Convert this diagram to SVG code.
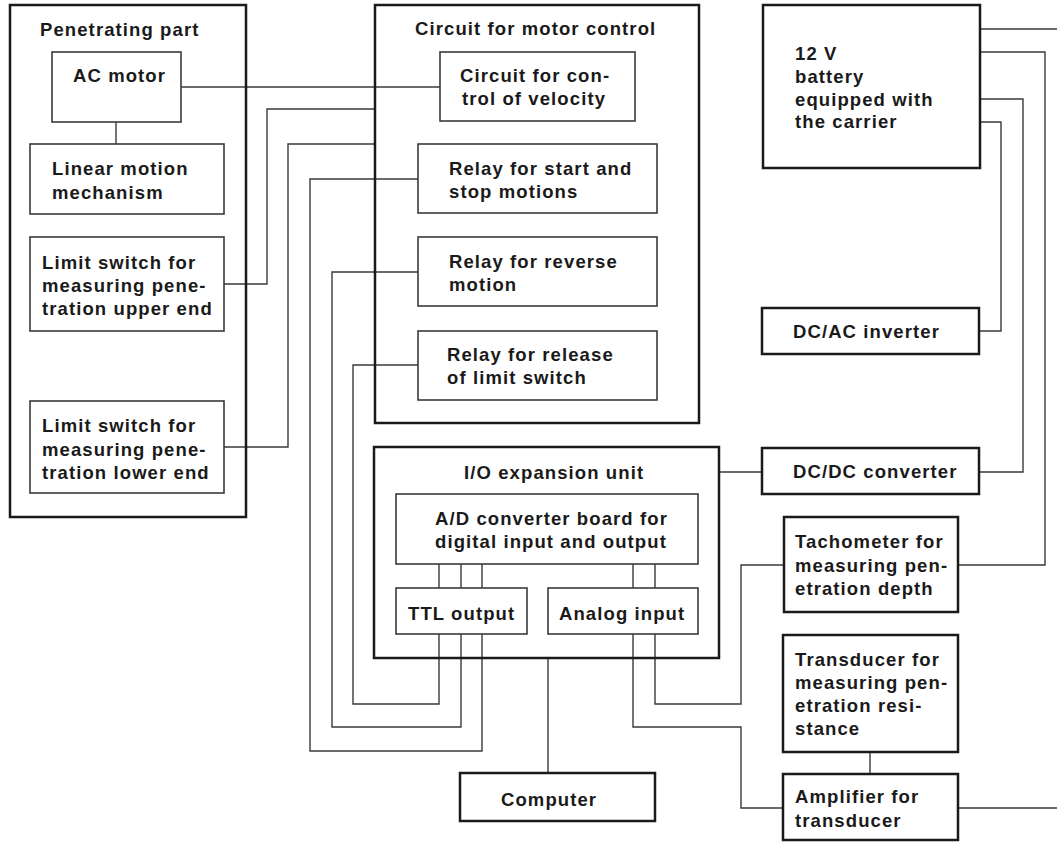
<svg xmlns="http://www.w3.org/2000/svg" width="1057" height="842" viewBox="0 0 1057 842">
<style>
.bg{fill:#fff}
.outer{fill:none;stroke:#1a1a1a;stroke-width:2.5}
.inner{fill:none;stroke:#3a3a3a;stroke-width:1.6}
.wire{fill:none;stroke:#3a3a3a;stroke-width:1.4}
text{font-family:"Liberation Sans",Arial,sans-serif;font-weight:bold;font-size:18.5px;letter-spacing:1.1px;fill:#1a1a1a}
</style>
<rect class="bg" x="0" y="0" width="1057" height="842"/>
<g id="connectors">
<path class="wire" d="M181,87 H440"/>
<path class="wire" d="M116,122 V144"/>
<path class="wire" d="M224,284 H267 V109 H375"/>
<path class="wire" d="M224,447 H288 V144 H375"/>
<path class="wire" d="M418,179 H310 V751 H482 V634"/>
<path class="wire" d="M418,272 H332 V727 H461 V634"/>
<path class="wire" d="M418,365 H353 V704 H439 V634"/>
<path class="wire" d="M439,564 V588 M461,564 V588 M482,564 V588"/>
<path class="wire" d="M633,564 V588 M655,564 V588"/>
<path class="wire" d="M655,634 V704 H741 V565 H784"/>
<path class="wire" d="M633,634 V727 H741 V808 H783"/>
<path class="wire" d="M548,658 V773"/>
<path class="wire" d="M719,472 H762"/>
<path class="wire" d="M979,472 H1023 V99 H980"/>
<path class="wire" d="M979,331 H1001 V122 H980"/>
<path class="wire" d="M958,565 H1045 V52 H980"/>
<path class="wire" d="M980,29 H1057"/>
<path class="wire" d="M870,752 V774"/>
<path class="wire" d="M958,808 H1057"/>
</g>
<g id="penetrating-part">
<rect class="outer" x="10" y="5" width="236" height="512"/>
<text x="40" y="36">Penetrating part</text>
</g>
<g id="ac-motor">
<rect class="inner" x="52" y="52" width="129" height="70"/>
<text x="73" y="82">AC motor</text>
</g>
<g id="linear-motion">
<rect class="inner" x="30" y="144" width="194" height="70"/>
<text x="52" y="175">Linear motion</text>
<text x="52" y="199">mechanism</text>
</g>
<g id="limit-upper">
<rect class="inner" x="30" y="237" width="194" height="94"/>
<text x="42" y="269">Limit switch for</text>
<text x="42" y="292">measuring pene-</text>
<text x="42" y="315">tration upper end</text>
</g>
<g id="limit-lower">
<rect class="inner" x="30" y="401" width="194" height="92"/>
<text x="42" y="432">Limit switch for</text>
<text x="42" y="456">measuring pene-</text>
<text x="42" y="479">tration lower end</text>
</g>
<g id="motor-control">
<rect class="outer" x="375" y="5" width="324" height="418"/>
<text x="415" y="35">Circuit for motor control</text>
</g>
<g id="velocity">
<rect class="inner" x="440" y="52" width="195" height="69"/>
<text x="460" y="82">Circuit for con-</text>
<text x="462" y="105">trol of velocity</text>
</g>
<g id="relay-start-stop">
<rect class="inner" x="418" y="144" width="239" height="69"/>
<text x="449" y="175">Relay for start and</text>
<text x="449" y="198">stop motions</text>
</g>
<g id="relay-reverse">
<rect class="inner" x="418" y="237" width="239" height="69"/>
<text x="449" y="268">Relay for reverse</text>
<text x="449" y="291">motion</text>
</g>
<g id="relay-release">
<rect class="inner" x="418" y="331" width="239" height="69"/>
<text x="447" y="361">Relay for release</text>
<text x="447" y="384">of limit switch</text>
</g>
<g id="io-unit">
<rect class="outer" x="374" y="447" width="345" height="211"/>
<text x="464" y="479">I/O expansion unit</text>
</g>
<g id="ad-board">
<rect class="inner" x="396" y="494" width="302" height="70"/>
<text x="435" y="525">A/D converter board for</text>
<text x="435" y="548">digital input and output</text>
</g>
<g id="ttl-output">
<rect class="inner" x="396" y="588" width="131" height="46"/>
<text x="408" y="620">TTL output</text>
</g>
<g id="analog-input">
<rect class="inner" x="548" y="588" width="150" height="46"/>
<text x="559" y="620">Analog input</text>
</g>
<g id="computer">
<rect class="outer" x="460" y="773" width="195" height="48"/>
<text x="501" y="806">Computer</text>
</g>
<g id="battery">
<rect class="outer" x="763" y="5" width="217" height="163"/>
<text x="795" y="60">12 V</text>
<text x="795" y="83">battery</text>
<text x="795" y="106">equipped with</text>
<text x="795" y="128">the carrier</text>
</g>
<g id="dc-ac">
<rect class="outer" x="762" y="308" width="217" height="46"/>
<text x="793" y="338">DC/AC inverter</text>
</g>
<g id="dc-dc">
<rect class="outer" x="762" y="448" width="217" height="46"/>
<text x="793" y="478">DC/DC converter</text>
</g>
<g id="tachometer">
<rect class="outer" x="784" y="517" width="174" height="95"/>
<text x="795" y="548">Tachometer for</text>
<text x="795" y="572">measuring pen-</text>
<text x="795" y="595">etration depth</text>
</g>
<g id="transducer">
<rect class="outer" x="783" y="635" width="175" height="117"/>
<text x="795" y="666">Transducer for</text>
<text x="795" y="689">measuring pen-</text>
<text x="795" y="712">etration resi-</text>
<text x="795" y="735">stance</text>
</g>
<g id="amplifier">
<rect class="outer" x="783" y="774" width="175" height="66"/>
<text x="795" y="803">Amplifier for</text>
<text x="795" y="827">transducer</text>
</g>
</svg>
